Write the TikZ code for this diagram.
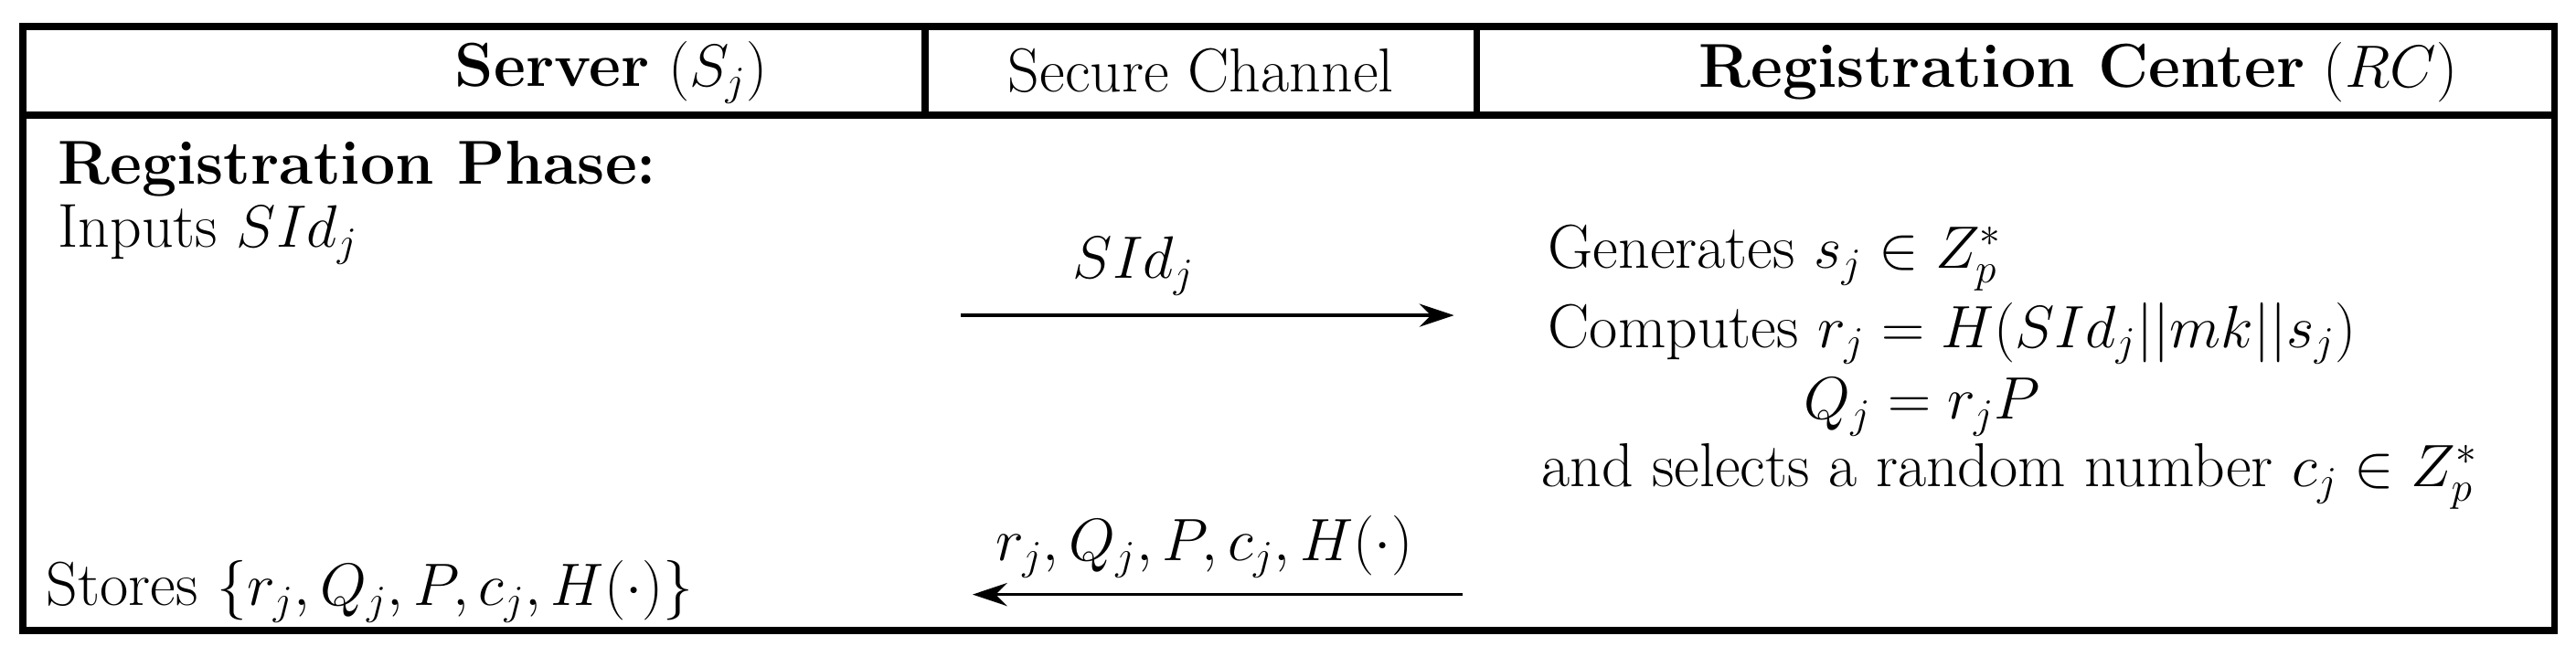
\documentclass[tikz,border=0pt]{standalone}
\usepackage{amsmath,amssymb}
\usetikzlibrary{arrows.meta}
\begin{document}
\begin{tikzpicture}[x=0.02cm,y=-0.02cm,
  txt/.style={inner sep=0pt,font=\fontsize{21.5}{25}\selectfont},
  arr/.style={line width=1pt,-{Stealth[length=12pt,width=8pt,inset=4pt]}}]
\useasboundingbox (0,0) rectangle (1568,400);
\draw[line width=2.4pt] (14,16) rectangle (1555,384);
\draw[line width=2.4pt] (14,70) -- (1555,70);
\draw[line width=2.4pt] (563,16) -- (563,70);
\draw[line width=2.4pt] (899,16) -- (899,70);
\node[txt] (h1) at (372,44) {\textbf{Server} $(S_j)$};
\node[txt] (h2) at (731,43) {Secure Channel};
\node[txt] (h3) at (1265,44) {\textbf{Registration Center} $(RC)$};
\node[txt,anchor=west] (ph) at (35,103) {\textbf{Registration Phase:}};
\node[txt,anchor=west] (in) at (35,143) {Inputs $SId_j$};
\coordinate (a1s) at (585,192); \coordinate (a1e) at (885,192);
\draw[arr] (a1s) -- (a1e);
\node[txt] (l1) at (690,162) {$SId_j$};
\node[txt,anchor=west] (g) at (942,157) {Generates $s_j\in Z_p^*$};
\node[txt,anchor=west] (c) at (942,203) {Computes $r_j=H(SId_j||mk||s_j)$};
\node[txt] (q) at (1170,248) {$Q_j=r_jP$};
\node[txt,anchor=west] (s) at (938,290) {and selects a random number $c_j\in Z_p^*$};
\coordinate (a2s) at (890,362); \coordinate (a2e) at (592,362);
\draw[arr] (a2s) -- (a2e);
\node[txt] (l2) at (733,333) {$r_j,Q_j,P,c_j,H(\cdot)$};
\node[txt,anchor=west] (st) at (28,360) {Stores $\{r_j,Q_j,P,c_j,H(\cdot)\}$};
\end{tikzpicture}
\end{document}
